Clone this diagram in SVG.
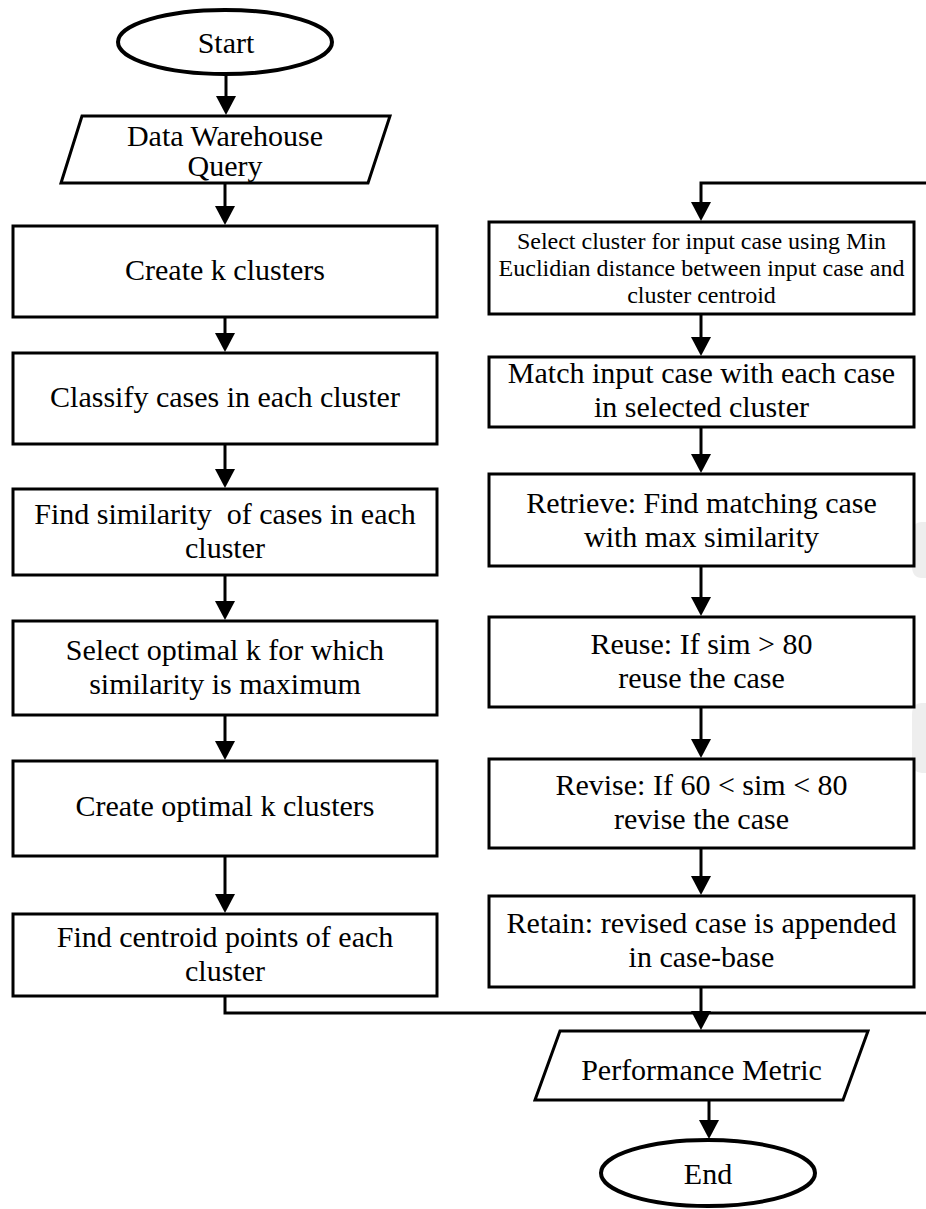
<svg xmlns="http://www.w3.org/2000/svg" width="926" height="1209" viewBox="0 0 926 1209">
<defs>
<style>
.box{fill:#fff;stroke:#000;stroke-width:3}
.term{fill:#fff;stroke:#000;stroke-width:4}
.t{font-family:"Liberation Serif","Times New Roman",serif;font-size:30px;fill:#000;text-anchor:middle}
.s{font-family:"Liberation Serif","Times New Roman",serif;font-size:24px;fill:#000;text-anchor:middle}
.c{fill:none;stroke:#000;stroke-width:3}
.wm{fill:#eeeeee;stroke:none}
</style>
<marker id="ah" viewBox="0 0 19 20" refX="1" refY="10" markerWidth="19" markerHeight="20" markerUnits="userSpaceOnUse" orient="auto">
<path d="M0,0 L19,10 L0,20 Z" fill="#000"/>
</marker>
</defs>
<rect width="926" height="1209" fill="#fff"/>
<path class="wm" d="M926,522 H922 Q912,522 912,534 V566 Q912,578 922,578 H926 Z"/>
<path class="wm" d="M926,703 H922 Q912,703 912,715 V761 Q912,773 922,773 H926 Z"/>

<g id="connectors">
<line class="c" x1="226" y1="74" x2="226" y2="97" marker-end="url(#ah)"/>
<line class="c" x1="225" y1="183" x2="225" y2="207" marker-end="url(#ah)"/>
<line class="c" x1="225" y1="317" x2="225" y2="334" marker-end="url(#ah)"/>
<line class="c" x1="225" y1="444" x2="225" y2="470" marker-end="url(#ah)"/>
<line class="c" x1="225" y1="575" x2="225" y2="602" marker-end="url(#ah)"/>
<line class="c" x1="225" y1="715" x2="225" y2="742" marker-end="url(#ah)"/>
<line class="c" x1="225" y1="856" x2="225" y2="895" marker-end="url(#ah)"/>
<path class="c" d="M225,996 V1013 H940 V183 H701 V203" marker-end="url(#ah)"/>
<line class="c" x1="701" y1="314" x2="701" y2="338" marker-end="url(#ah)"/>
<line class="c" x1="701" y1="427" x2="701" y2="455" marker-end="url(#ah)"/>
<line class="c" x1="701" y1="566" x2="701" y2="598" marker-end="url(#ah)"/>
<line class="c" x1="701" y1="707" x2="701" y2="740" marker-end="url(#ah)"/>
<line class="c" x1="701" y1="848" x2="701" y2="877" marker-end="url(#ah)"/>
<line class="c" x1="701" y1="987" x2="701" y2="1012" marker-end="url(#ah)"/>
<line class="c" x1="709" y1="1100" x2="709" y2="1121" marker-end="url(#ah)"/>
</g>

<g id="start">
<ellipse class="term" cx="225" cy="42" rx="107" ry="32"/>
<text class="t" x="226" y="53">Start</text>
</g>

<g id="data-warehouse-query">
<polygon class="box" points="82,116 390,116 368,183 61,183"/>
<text class="t" x="225" y="146">Data Warehouse</text>
<text class="t" x="225" y="176">Query</text>
</g>

<g id="create-k-clusters">
<rect class="box" x="13" y="226" width="424" height="91"/>
<text class="t" x="225" y="280">Create k clusters</text>
</g>

<g id="classify-cases">
<rect class="box" x="13" y="353" width="424" height="91"/>
<text class="t" x="225" y="407">Classify cases in each cluster</text>
</g>

<g id="find-similarity">
<rect class="box" x="13" y="489" width="424" height="86"/>
<text class="t" x="225" y="524" xml:space="preserve">Find similarity  of cases in each</text>
<text class="t" x="225" y="558">cluster</text>
</g>

<g id="select-optimal-k">
<rect class="box" x="13" y="621" width="424" height="94"/>
<text class="t" x="225" y="660">Select optimal k for which</text>
<text class="t" x="225" y="694">similarity is maximum</text>
</g>

<g id="create-optimal-k-clusters">
<rect class="box" x="13" y="761" width="424" height="95"/>
<text class="t" x="225" y="816">Create optimal k clusters</text>
</g>

<g id="find-centroid-points">
<rect class="box" x="13" y="914" width="424" height="82"/>
<text class="t" x="225" y="947">Find centroid points of each</text>
<text class="t" x="225" y="981">cluster</text>
</g>

<g id="select-cluster">
<rect class="box" x="489" y="222" width="425" height="92"/>
<text class="s" x="701.5" y="249">Select cluster for input case using Min</text>
<text class="s" x="701.5" y="276">Euclidian distance between input case and</text>
<text class="s" x="701.5" y="303">cluster centroid</text>
</g>

<g id="match-input-case">
<rect class="box" x="489" y="357" width="425" height="70"/>
<text class="t" x="701.5" y="383">Match input case with each case</text>
<text class="t" x="701.5" y="417">in selected cluster</text>
</g>

<g id="retrieve">
<rect class="box" x="489" y="474" width="425" height="92"/>
<text class="t" x="701.5" y="513">Retrieve: Find matching case</text>
<text class="t" x="701.5" y="547">with max similarity</text>
</g>

<g id="reuse">
<rect class="box" x="489" y="617" width="425" height="90"/>
<text class="t" x="701.5" y="654">Reuse: If sim &gt; 80</text>
<text class="t" x="701.5" y="688">reuse the case</text>
</g>

<g id="revise">
<rect class="box" x="489" y="759" width="425" height="89"/>
<text class="t" x="701.5" y="795">Revise: If 60 &lt; sim &lt; 80</text>
<text class="t" x="701.5" y="829">revise the case</text>
</g>

<g id="retain">
<rect class="box" x="489" y="896" width="425" height="91"/>
<text class="t" x="701.5" y="933">Retain: revised case is appended</text>
<text class="t" x="701.5" y="967">in case-base</text>
</g>

<g id="performance-metric">
<polygon class="box" points="560,1031 868,1031 843,1100 535,1100"/>
<text class="t" x="701.5" y="1080">Performance Metric</text>
</g>

<g id="end">
<ellipse class="term" cx="708" cy="1173" rx="107" ry="33"/>
<text class="t" x="708" y="1184">End</text>
</g>
</svg>
